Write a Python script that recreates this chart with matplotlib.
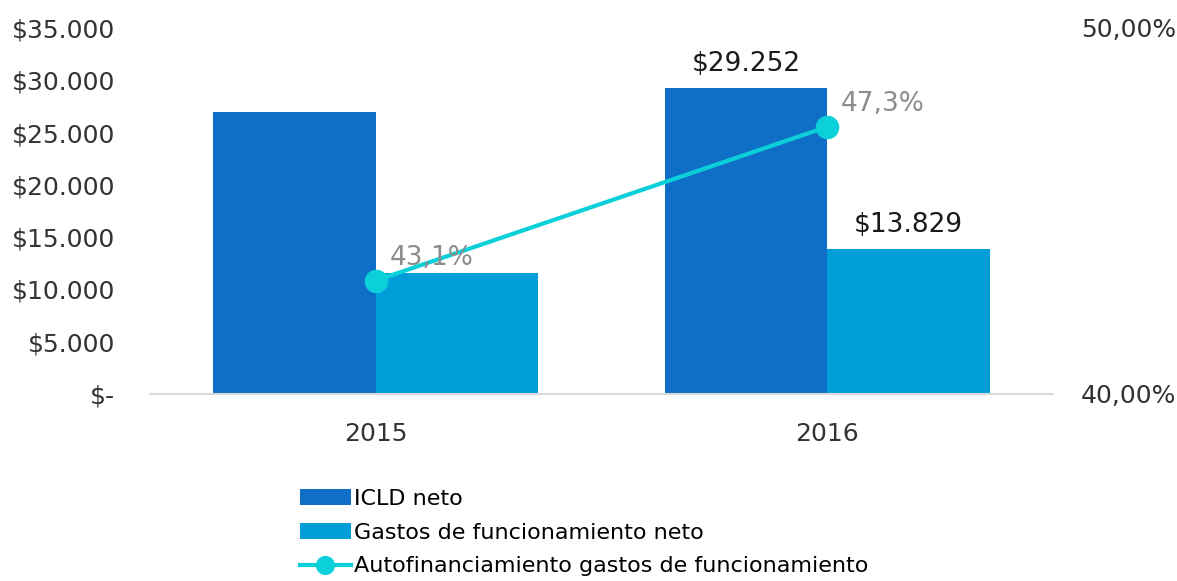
import matplotlib.pyplot as plt
import numpy as np

# Datos del grafico
years = ['2015', '2016']
icld = [26950, 29252]
gastos = [11600, 13829]
autofin = [43.1, 47.3]

icld_labels = ['', '$29.252']
gastos_labels = ['', '$13.829']
pct_labels = ['43,1%', '47,3%']

left_ticks = [0, 5000, 10000, 15000, 20000, 25000, 30000, 35000]
left_ticklabels = ['$-', '$5.000', '$10.000', '$15.000', '$20.000', '$25.000', '$30.000', '$35.000']
right_ticks = [40, 50]
right_ticklabels = ['40,00%', '50,00%']

c_icld = '#0F6FC6'
c_gastos = '#009DD9'
c_line = '#0BD0D9'

plt.rcParams['font.family'] = ['DejaVu Sans']

fig = plt.figure(figsize=(11.77, 5.81), dpi=100)
ax1 = fig.add_axes([150 / 1177, 1 - 394 / 581, 903 / 1177, 366 / 581])

x = np.arange(len(years))
w = 0.36
b1 = ax1.bar(x - w / 2, icld, w, color=c_icld, label='ICLD neto')
b2 = ax1.bar(x + w / 2, gastos, w, color=c_gastos, label='Gastos de funcionamiento neto')

ax1.set_xlim(-0.5, 1.5)
ax1.set_ylim(0, 35000)
ax1.set_xticks(x)
ax1.set_xticklabels(years, fontsize=18, color='#333333')
ax1.set_yticks(left_ticks)
ax1.set_yticklabels(left_ticklabels, fontsize=18, color='#333333')
ax1.tick_params(axis='y', length=0, pad=25)
ax1.tick_params(axis='x', length=0, pad=20)
for s in ['top', 'right', 'left']:
    ax1.spines[s].set_visible(False)
ax1.spines['bottom'].set_color('#d9d9d9')
ax1.spines['bottom'].set_linewidth(1.5)

for rect, lab in zip(b1, icld_labels):
    ax1.annotate(lab, (rect.get_x() + rect.get_width() / 2, rect.get_height()),
                 xytext=(0, 8), textcoords='offset points', ha='center', va='bottom',
                 fontsize=19, color='#1a1a1a')
for rect, lab in zip(b2, gastos_labels):
    ax1.annotate(lab, (rect.get_x() + rect.get_width() / 2, rect.get_height()),
                 xytext=(0, 8), textcoords='offset points', ha='center', va='bottom',
                 fontsize=19, color='#1a1a1a')

ax2 = ax1.twinx()
ln, = ax2.plot(x, autofin, color=c_line, lw=3, marker='o', markersize=16,
               label='Autofinanciamiento gastos de funcionamiento')
ax2.set_ylim(40, 50)
ax2.set_yticks(right_ticks)
ax2.set_yticklabels(right_ticklabels, fontsize=18, color='#333333')
ax2.tick_params(axis='y', length=0, pad=20)
for s in ['top', 'right', 'left', 'bottom']:
    ax2.spines[s].set_visible(False)

for xi, v, lab in zip(x, autofin, pct_labels):
    ax2.annotate(lab, (xi, v), xytext=(10, 7), textcoords='offset points',
                 ha='left', va='bottom', fontsize=19, color='#8c8c8c')

fig.legend(handles=[b1, b2, ln], loc='upper left', bbox_to_anchor=(291 / 1177, 1 - 480 / 581),
           frameon=False, handlelength=2.3, handletextpad=0.15,
           labelspacing=0.62, borderaxespad=0, markerscale=0.8,
           prop={'size': 16})

fig.savefig('out.png', dpi=100)
